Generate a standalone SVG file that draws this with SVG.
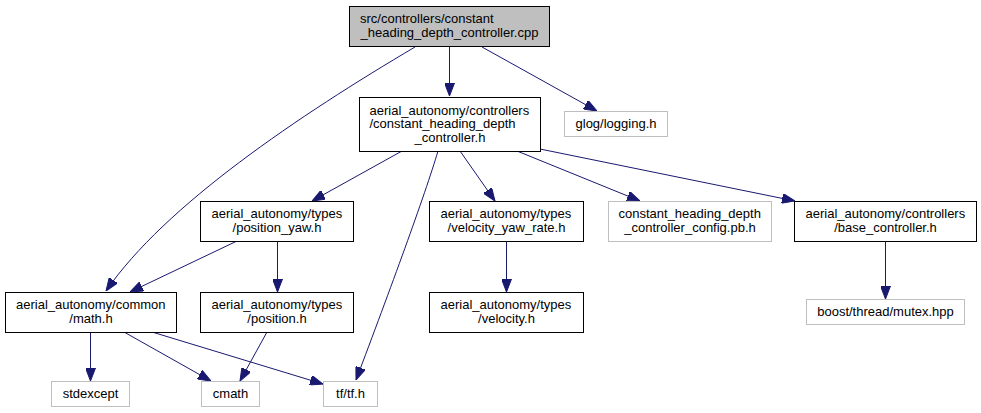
<svg xmlns="http://www.w3.org/2000/svg" width="981" height="413" viewBox="0 0 981 413">
<style>
  .n rect { fill: #ffffff; stroke: #000000; stroke-width: 1; }
  .ext rect { fill: #ffffff; stroke: #bfbfbf; stroke-width: 1; }
  .root rect { fill: #bfbfbf; stroke: #000000; stroke-width: 1; }
  text { font-family: "Liberation Sans", Arial, Helvetica, sans-serif; font-size: 13px; fill: #000000; }
  .m { text-anchor: middle; }
  .e path { fill: none; stroke: #191970; stroke-width: 1; marker-end: url(#ah); }
</style>
<defs>
  <marker id="ah" viewBox="0 0 13 10" refX="13" refY="5" markerWidth="13" markerHeight="10" markerUnits="userSpaceOnUse" orient="auto">
    <path d="M0,0 L13,5 L0,10 z" fill="#191970" stroke="#191970" stroke-width="1"/>
  </marker>
</defs>
<rect width="981" height="413" fill="#ffffff"/>
<g id="edges" class="e">
  <path d="M415,47 C300,115 165,205 106,291"/>
  <path d="M449.5,47 L449.5,96"/>
  <path d="M482,47 L597,111"/>
  <path d="M402,151 L312,201"/>
  <path d="M438,151 C425,195 390,290 356,380"/>
  <path d="M460,151 L495,201"/>
  <path d="M517,151 L640,201"/>
  <path d="M540,149 L795,201"/>
  <path d="M237,241 L130,292"/>
  <path d="M277.5,241 L277.5,292"/>
  <path d="M90.5,332 L90.5,381"/>
  <path d="M124,332 L211,381"/>
  <path d="M152,332 L323,384"/>
  <path d="M267,332 L240,381"/>
  <path d="M506.5,241 L506.5,292"/>
  <path d="M885.5,241 L885.5,299"/>
</g>
<g id="node_root" class="root">
  <rect x="349.5" y="6.5" width="200" height="40"/>
  <text x="360" y="23.25">src/controllers/constant</text>
  <text class="m" x="449.5" y="36.75">_heading_depth_controller.cpp</text>
</g>
<g id="node_chdc" class="n">
  <rect x="359.5" y="97.5" width="181" height="54"/>
  <text x="369.5" y="114.5">aerial_autonomy/controllers</text>
  <text x="369.5" y="128">/constant_heading_depth</text>
  <text class="m" x="450" y="141.5">_controller.h</text>
</g>
<g id="node_glog" class="ext">
  <rect x="564.5" y="111.5" width="103" height="25"/>
  <text class="m" x="616" y="128">glog/logging.h</text>
</g>
<g id="node_position_yaw" class="n">
  <rect x="200.5" y="201.5" width="153" height="40"/>
  <text x="211.5" y="218.25">aerial_autonomy/types</text>
  <text class="m" x="277" y="231.75">/position_yaw.h</text>
</g>
<g id="node_vyr" class="n">
  <rect x="429.5" y="201.5" width="154" height="40"/>
  <text x="440.5" y="218.25">aerial_autonomy/types</text>
  <text class="m" x="506.5" y="231.75">/velocity_yaw_rate.h</text>
</g>
<g id="node_config" class="ext">
  <rect x="608.5" y="201.5" width="163" height="40"/>
  <text x="618.5" y="218.25">constant_heading_depth</text>
  <text class="m" x="690" y="231.75">_controller_config.pb.h</text>
</g>
<g id="node_base" class="n">
  <rect x="794.5" y="201.5" width="182" height="40"/>
  <text x="805.5" y="218.25">aerial_autonomy/controllers</text>
  <text class="m" x="885.5" y="231.75">/base_controller.h</text>
</g>
<g id="node_math" class="n">
  <rect x="5.5" y="292.5" width="171" height="40"/>
  <text x="16" y="309.25">aerial_autonomy/common</text>
  <text class="m" x="91" y="322.75">/math.h</text>
</g>
<g id="node_position" class="n">
  <rect x="200.5" y="292.5" width="153" height="40"/>
  <text x="211.5" y="309.25">aerial_autonomy/types</text>
  <text class="m" x="277" y="322.75">/position.h</text>
</g>
<g id="node_velocity" class="n">
  <rect x="429.5" y="292.5" width="154" height="40"/>
  <text x="440.5" y="309.25">aerial_autonomy/types</text>
  <text class="m" x="506.5" y="322.75">/velocity.h</text>
</g>
<g id="node_mutex" class="ext">
  <rect x="806.5" y="299.5" width="158" height="25"/>
  <text class="m" x="885.5" y="316">boost/thread/mutex.hpp</text>
</g>
<g id="node_stdexcept" class="ext">
  <rect x="51.5" y="381.5" width="78" height="25"/>
  <text class="m" x="90.5" y="398">stdexcept</text>
</g>
<g id="node_cmath" class="ext">
  <rect x="201.5" y="381.5" width="58" height="25"/>
  <text class="m" x="230.5" y="398">cmath</text>
</g>
<g id="node_tf" class="ext">
  <rect x="323.5" y="381.5" width="54" height="25"/>
  <text class="m" x="350.5" y="398">tf/tf.h</text>
</g>
</svg>
